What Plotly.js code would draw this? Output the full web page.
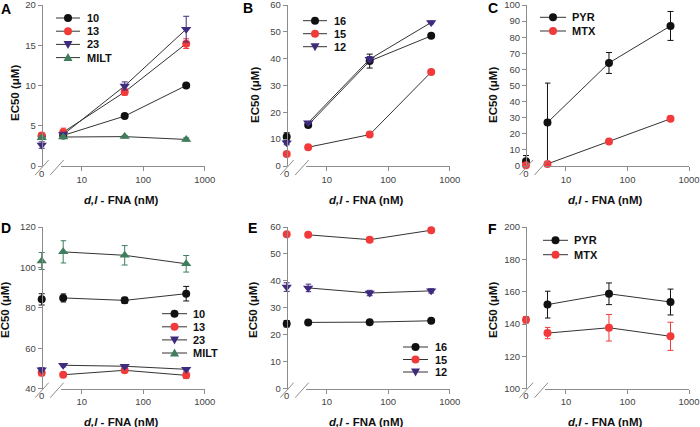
<!DOCTYPE html>
<html>
<head>
<meta charset="utf-8">
<script src="https://cdn.plot.ly/plotly-3.0.1.min.js"></script>
<style>
  html, body { margin: 0; padding: 0; background: white; }
  #chart { width: 700px; height: 427px; }
</style>
</head>
<body>
<div id="chart"></div>
<script>
// d,l-FNA doses (nM). dose 0 sits on the short axis left of the break
const doses = [0, 5, 50, 500];

// panel A
const a10 = [3.7, 3.8, 6.2, 10.0];
const a10Err = [0, 0, 0, 0];
const a13 = [3.8, 4.2, 9.2, 15.2];
const a13Err = [0.3, 0.5, 0.4, 0.6];
const a23 = [2.6, 3.9, 9.95, 17.0];
const a23Err = [0.4, 0.3, 0.5, 1.6];
const aMilt = [3.5, 3.6, 3.65, 3.3];
const aMiltErr = [0.2, 0.2, 0.15, 0.2];

// panel B
const b16 = [10.9, 15.3, 39.1, 48.5];
const b16Err = [1.5, 0.8, 2.6, 0.5];
const b15 = [4.5, 7.0, 11.7, 35.0];
const b15Err = [0.5, 0.4, 0.5, 0.5];
const b12 = [8.7, 16.1, 39.8, 53.5];
const b12Err = [0.8, 0.5, 1.0, 0.5];

// panel C
const cPyr = [3.0, 27.0, 64.0, 87.0];
const cPyrErr = [3.5, 24.5, 6.5, 9.0];
const cMtx = [0.5, 1.3, 15.2, 29.3];
const cMtxErr = [0, 0, 0.3, 0.3];

// panel D
const d10 = [84.2, 84.9, 83.7, 87.0];
const d10Err = [2.8, 2.0, 1.5, 3.6];
const d13 = [47.9, 46.9, 49.1, 46.6];
const d13Err = [1.5, 0.8, 1.0, 1.5];
const d23 = [49.4, 51.6, 51.1, 49.6];
const d23Err = [1.0, 0.8, 0.8, 0.8];
const dMilt = [103.2, 107.7, 106.0, 101.8];
const dMiltErr = [4.2, 5.5, 4.8, 4.1];

// panel E
const e16 = [24.1, 24.6, 24.7, 25.2];
const e16Err = [1.2, 0.5, 0.5, 0.5];
const e15 = [57.3, 57.1, 55.3, 58.8];
const e15Err = [0.6, 0.5, 0.5, 0.6];
const e12 = [37.7, 37.4, 35.5, 36.3];
const e12Err = [1.6, 1.4, 1.0, 0.8];

// panel F (no PYR value at dose 0)
const fPyr = [null, 152.0, 158.7, 153.6];
const fPyrErr = [0, 8.3, 6.7, 8.0];
const fMtx = [142.6, 134.4, 137.7, 132.4];
const fMtxErr = [2.0, 3.5, 8.2, 8.7];

const xTickVals = [10, 100, 1000];
const xTickText = ["10", "100", "1000"];

const BLACK = "#111111";
const RED = "#f23a3a";
const PURPLE = "#3f2a7e";
const GREEN = "#3f7d5d";
const AXIS = "#8c8c8c";
const FONT = "Liberation Sans, Arial, sans-serif";

const W = 700, H = 427;
const px = v => v / W;          // pixel -> paper x
const py = v => 1 - v / H;      // pixel -> paper y

const panels = [
    {letter: "A", lx: 6, ly: 9, yx: 41.7, top: 5, bot: 166, range: [0, 20], dtick: 5, ytx: 15, yty: 93, xty: 200,
     leg: {x0: 56, x1: 80, tx: 85, y: 18, dy: 13.2},
     series: [
         {name: "10", y: a10, err: a10Err, color: BLACK, symbol: "circle"},
         {name: "13", y: a13, err: a13Err, color: RED, symbol: "circle"},
         {name: "23", y: a23, err: a23Err, color: PURPLE, symbol: "triangle-down"},
         {name: "MILT", y: aMilt, err: aMiltErr, color: GREEN, symbol: "triangle-up"}
     ]},
    {letter: "B", lx: 248, ly: 8, yx: 286.7, top: 5, bot: 166, range: [0, 60], dtick: 10, ytx: 255, yty: 95, xty: 200,
     leg: {x0: 303, x1: 327, tx: 332, y: 20.7, dy: 13},
     series: [
         {name: "16", y: b16, err: b16Err, color: BLACK, symbol: "circle"},
         {name: "15", y: b15, err: b15Err, color: RED, symbol: "circle"},
         {name: "12", y: b12, err: b12Err, color: PURPLE, symbol: "triangle-down"}
     ]},
    {letter: "C", lx: 493, ly: 8, yx: 526, top: 5, bot: 166, range: [0, 100], dtick: 10, ytx: 493, yty: 95, xty: 200,
     leg: {x0: 540, x1: 566, tx: 570, y: 17.3, dy: 13.7},
     series: [
         {name: "PYR", y: cPyr, err: cPyrErr, color: BLACK, symbol: "circle"},
         {name: "MTX", y: cMtx, err: cMtxErr, color: RED, symbol: "circle"}
     ]},
    {letter: "D", lx: 6, ly: 228, yx: 41.7, top: 227, bot: 388.7, range: [40, 120], dtick: 20, ytx: 5, yty: 310, xty: 422,
     leg: {x0: 162, x1: 187, tx: 191, y: 313.7, dy: 13.1},
     series: [
         {name: "10", y: d10, err: d10Err, color: BLACK, symbol: "circle"},
         {name: "13", y: d13, err: d13Err, color: RED, symbol: "circle"},
         {name: "23", y: d23, err: d23Err, color: PURPLE, symbol: "triangle-down"},
         {name: "MILT", y: dMilt, err: dMiltErr, color: GREEN, symbol: "triangle-up"}
     ]},
    {letter: "E", lx: 252, ly: 228, yx: 286.7, top: 227, bot: 388.7, range: [0, 60], dtick: 10, ytx: 253, yty: 310, xty: 422,
     leg: {x0: 403, x1: 428, tx: 433, y: 347, dy: 12.5},
     series: [
         {name: "16", y: e16, err: e16Err, color: BLACK, symbol: "circle"},
         {name: "15", y: e15, err: e15Err, color: RED, symbol: "circle"},
         {name: "12", y: e12, err: e12Err, color: PURPLE, symbol: "triangle-down"}
     ]},
    {letter: "F", lx: 492, ly: 229, yx: 526, top: 227, bot: 388.7, range: [100, 200], dtick: 20, ytx: 493, yty: 310, xty: 422,
     leg: {x0: 543, x1: 568, tx: 572, y: 240.3, dy: 14.4},
     series: [
         {name: "PYR", y: fPyr, err: fPyrErr, color: BLACK, symbol: "circle"},
         {name: "MTX", y: fMtx, err: fMtxErr, color: RED, symbol: "circle"}
     ]}
];

const traces = [];
const shapes = [];
const annotations = [];
const layout = {
    width: W, height: H,
    margin: {l: 0, r: 0, t: 0, b: 0},
    paper_bgcolor: "white",
    plot_bgcolor: "white",
    showlegend: false,
    font: {family: FONT, size: 9.5, color: "#444"}
};

const tickFont = {family: FONT, size: 9.5, color: "#444"};
const axId = n => (n === 1 ? "" : String(n));

panels.forEach((p, i) => {
    const zx = axId(2 * i + 1);   // short axis holding dose 0
    const lx = axId(2 * i + 2);   // log axis
    const yy = axId(i + 1);

    layout["yaxis" + yy] = {
        domain: [py(p.bot), py(p.top)],
        range: p.range,
        dtick: p.dtick,
        anchor: "free",
        position: px(p.yx),
        showline: true, linecolor: AXIS, linewidth: 1.2,
        ticks: "outside", ticklen: 4, tickcolor: AXIS,
        showgrid: false, zeroline: false,
        ticklabeloverflow: "allow",
        tickfont: tickFont
    };
    layout["xaxis" + zx] = {
        domain: [px(p.yx - 10), px(p.yx + 10)],
        range: [-1, 1],
        anchor: "y" + yy,
        showline: false, showgrid: false, zeroline: false,
        ticks: "",
        tickvals: [0], ticktext: ["0"],
        ticklabeloverflow: "allow",
        tickfont: tickFont
    };
    layout["xaxis" + lx] = {
        type: "log",
        domain: [px(p.yx + 19), px(p.yx + 163)],
        range: [Math.log10(4.557), 3],
        anchor: "y" + yy,
        showline: true, linecolor: AXIS, linewidth: 1.2,
        ticks: "outside", ticklen: 4, tickcolor: AXIS,
        showgrid: false, zeroline: false,
        tickvals: xTickVals, ticktext: xTickText,
        ticklabeloverflow: "allow",
        tickfont: tickFont
    };

    p.series.forEach(s => {
        const errBar = arr => ({type: "data", array: arr, visible: true, color: s.color, thickness: 1, width: 3});
        const marker = {color: s.color, size: s.symbol === "circle" ? 8 : 9, symbol: s.symbol, line: {width: 0}};

        // point at dose 0, left of the axis break
        if (s.y[0] !== null) {
            traces.push({
                x: [doses[0]], y: [s.y[0]],
                xaxis: "x" + zx, yaxis: "y" + yy,
                type: "scatter", mode: "markers",
                marker, error_y: errBar([s.err[0]]),
                cliponaxis: false, hoverinfo: "skip"
            });
        }
        traces.push({
            x: doses.slice(1), y: s.y.slice(1),
            xaxis: "x" + lx, yaxis: "y" + yy,
            type: "scatter", mode: "lines+markers",
            line: {color: "#333", width: 1},
            marker, error_y: errBar(s.err.slice(1)),
            cliponaxis: false, name: s.name
        });
    });

    // axis break marks
    [[-6.5, 7], [8.5, 22]].forEach(([a, b]) => {
        shapes.push({
            type: "line", xref: "paper", yref: "paper",
            x0: px(p.yx + a), y0: py(p.bot + 9), x1: px(p.yx + b), y1: py(p.bot - 6),
            line: {color: AXIS, width: 1}
        });
    });

    // hand-made legend (Plotly's own rows are too tall for this figure)
    p.series.forEach((s, j) => {
        const cy = p.leg.y + j * p.leg.dy;
        const cx = (p.leg.x0 + p.leg.x1) / 2;
        shapes.push({
            type: "line", xref: "paper", yref: "paper",
            x0: px(p.leg.x0), y0: py(cy), x1: px(p.leg.x1), y1: py(cy),
            line: {color: "#333", width: 1}
        });
        if (s.symbol === "circle") {
            shapes.push({
                type: "circle", xref: "paper", yref: "paper",
                x0: px(cx - 4), x1: px(cx + 4), y0: py(cy + 4), y1: py(cy - 4),
                fillcolor: s.color, line: {width: 0}
            });
        } else {
            const d = s.symbol === "triangle-down" ? 1 : -1;
            const path = `M ${px(cx - 4.5)},${py(cy - 3.5 * d)} L ${px(cx + 4.5)},${py(cy - 3.5 * d)} L ${px(cx)},${py(cy + 4.5 * d)} Z`;
            shapes.push({
                type: "path", xref: "paper", yref: "paper", path,
                fillcolor: s.color, line: {width: 0}
            });
        }
        annotations.push({
            xref: "paper", yref: "paper", x: px(p.leg.tx), y: py(cy),
            xanchor: "left", yanchor: "middle", showarrow: false,
            text: `<b>${s.name}</b>`,
            font: {family: FONT, size: 11, color: "#111"}
        });
    });

    // panel letter and axis titles
    annotations.push({
        xref: "paper", yref: "paper", x: px(p.lx), y: py(p.ly),
        xanchor: "center", yanchor: "middle", showarrow: false,
        text: `<b>${p.letter}</b>`,
        font: {family: FONT, size: 14, color: "#000"}
    });
    annotations.push({
        xref: "paper", yref: "paper", x: px(p.ytx), y: py(p.yty),
        xanchor: "center", yanchor: "middle", showarrow: false, textangle: -90,
        text: "<b>EC50 (μM)</b>",
        font: {family: FONT, size: 11.5, color: "#111"}
    });
    annotations.push({
        xref: "paper", yref: "paper", x: px(p.yx + 79), y: py(p.xty),
        xanchor: "center", yanchor: "middle", showarrow: false,
        text: "<b><i>d,l</i> - FNA (nM)</b>",
        font: {family: FONT, size: 11.5, color: "#111"}
    });
});

layout.shapes = shapes;
layout.annotations = annotations;

Plotly.newPlot("chart", traces, layout, {displayModeBar: false, staticPlot: true});
</script>
</body>
</html>
